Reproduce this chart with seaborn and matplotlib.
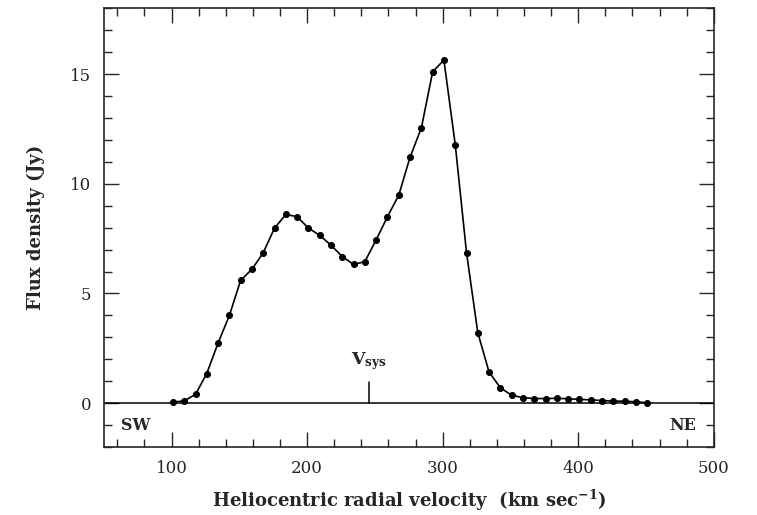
import numpy as np
import pandas as pd
import matplotlib
matplotlib.use("Agg")
import matplotlib.pyplot as plt
import seaborn as sns
from matplotlib.ticker import MultipleLocator

# velocities of the channels (km/s)
velocity = [101.0, 109.3, 117.7, 126.0, 134.3, 142.7, 151.0, 159.3, 167.6, 176.0,
            184.3, 192.6, 201.0, 209.3, 217.6, 226.0, 234.3, 242.6, 250.9, 259.3,
            267.6, 275.9, 284.3, 292.6, 300.9, 309.3, 317.6, 325.9, 334.2, 342.6,
            350.9, 359.2, 367.6, 375.9, 384.2, 392.6, 400.9, 409.2, 417.5, 425.9,
            434.2, 442.5, 450.9]
# flux density (Jy)
flux = [0.05, 0.10, 0.40, 1.35, 2.73, 4.00, 5.60, 6.10, 6.85, 7.98,
        8.60, 8.50, 7.98, 7.65, 7.20, 6.68, 6.32, 6.45, 7.44, 8.50,
        9.48, 11.20, 12.55, 15.10, 15.64, 11.77, 6.85, 3.21, 1.42, 0.70,
        0.36, 0.25, 0.21, 0.21, 0.22, 0.20, 0.17, 0.15, 0.12, 0.09,
        0.09, 0.06, 0.02]

v_sys = 245.5

df = pd.DataFrame({"velocity": velocity, "flux": flux})

sns.set_style("ticks")
plt.rcParams["font.family"] = ["DejaVu Serif"]
plt.rcParams["mathtext.fontset"] = "dejavuserif"

fig = plt.figure(figsize=(7.57, 5.15), dpi=100)
ax = fig.add_axes([0.137, 0.132, 0.806, 0.852])

# zero line
ax.axhline(0, color="black", lw=1.1, zorder=1)

sns.lineplot(data=df, x="velocity", y="flux", ax=ax, color="black",
             lw=1.2, marker="o", markersize=4.3, markeredgecolor="black",
             markerfacecolor="black", zorder=3)

# systemic velocity marker
ax.plot([v_sys, v_sys], [0, 0.95], color="black", lw=1.1)
ax.text(v_sys, 1.4, r"$\mathbf{V_{sys}}$", ha="center", va="bottom",
        fontsize=12.5)

ax.text(74, -1.0, "SW", ha="center", va="center", fontsize=11.5, fontweight="bold")
ax.text(477, -1.0, "NE", ha="center", va="center", fontsize=11.5, fontweight="bold")

ax.set_xlim(50, 500)
ax.set_ylim(-2, 18)
ax.xaxis.set_major_locator(MultipleLocator(100))
ax.xaxis.set_minor_locator(MultipleLocator(20))
ax.yaxis.set_major_locator(MultipleLocator(5))
ax.yaxis.set_minor_locator(MultipleLocator(1))
ax.tick_params(which="both", direction="in", top=True, right=True,
               width=1.0, labelsize=12)
ax.tick_params(which="major", length=11, pad=9)
ax.tick_params(which="minor", length=5.5)
for s in ax.spines.values():
    s.set_linewidth(1.2)
    s.set_visible(True)

ax.set_xlabel(r"Heliocentric radial velocity  (km sec$^{\mathbf{-1}}$)",
              fontsize=13, fontweight="bold", labelpad=8)
ax.set_ylabel("Flux density (Jy)", fontsize=13, fontweight="bold", labelpad=18)

fig.savefig("out.png", dpi=100)
